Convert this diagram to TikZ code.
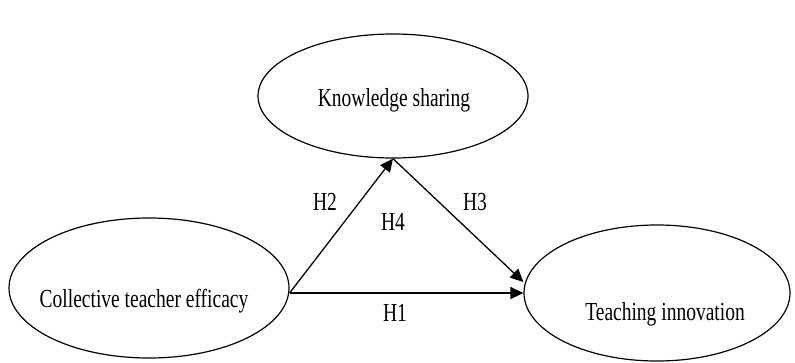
\documentclass[tikz,border=0pt]{standalone}
\usepackage{fontspec}
\setmainfont{Liberation Serif}[FakeStretch=0.75]
\usetikzlibrary{arrows.meta,shapes.geometric}
\begin{document}
\begin{tikzpicture}[x=1pt,y=-1pt,
  oval/.style={draw, ellipse, line width=1.2pt, inner sep=0pt},
  txt/.style={font=\fontsize{26}{28}\selectfont, inner sep=0pt},
  conn/.style={line width=1.3pt, -{Triangle[length=13pt,width=12pt]}}]
\useasboundingbox (0,0) rectangle (795,362);
\node[oval, minimum width=270pt, minimum height=124pt] (ks) at (393,96) {};
\node[oval, minimum width=280pt, minimum height=140pt] (cte) at (149,288) {};
\node[oval, minimum width=266pt, minimum height=136pt] (ti) at (657,293) {};
\node[txt, anchor=base] (kst) at (394,106) {Knowledge sharing};
\node[txt, anchor=base] (ctet) at (144,307) {Collective teacher efficacy};
\node[txt, anchor=base] (tit) at (665,320) {Teaching innovation};
\coordinate (s) at ([yshift=-5pt]cte.east);
\coordinate (e3) at ([yshift=11pt]ti.west);
\draw[conn] (s) -- (ti.west);
\draw[conn] (s) -- (ks.south);
\draw[conn] (ks.south) -- (e3);
\node[txt] (h2) at (325,202) {H2};
\node[txt] (h4) at (393,222) {H4};
\node[txt] (h3) at (475,202) {H3};
\node[txt] (h1) at (395,313) {H1};
\end{tikzpicture}
\end{document}
